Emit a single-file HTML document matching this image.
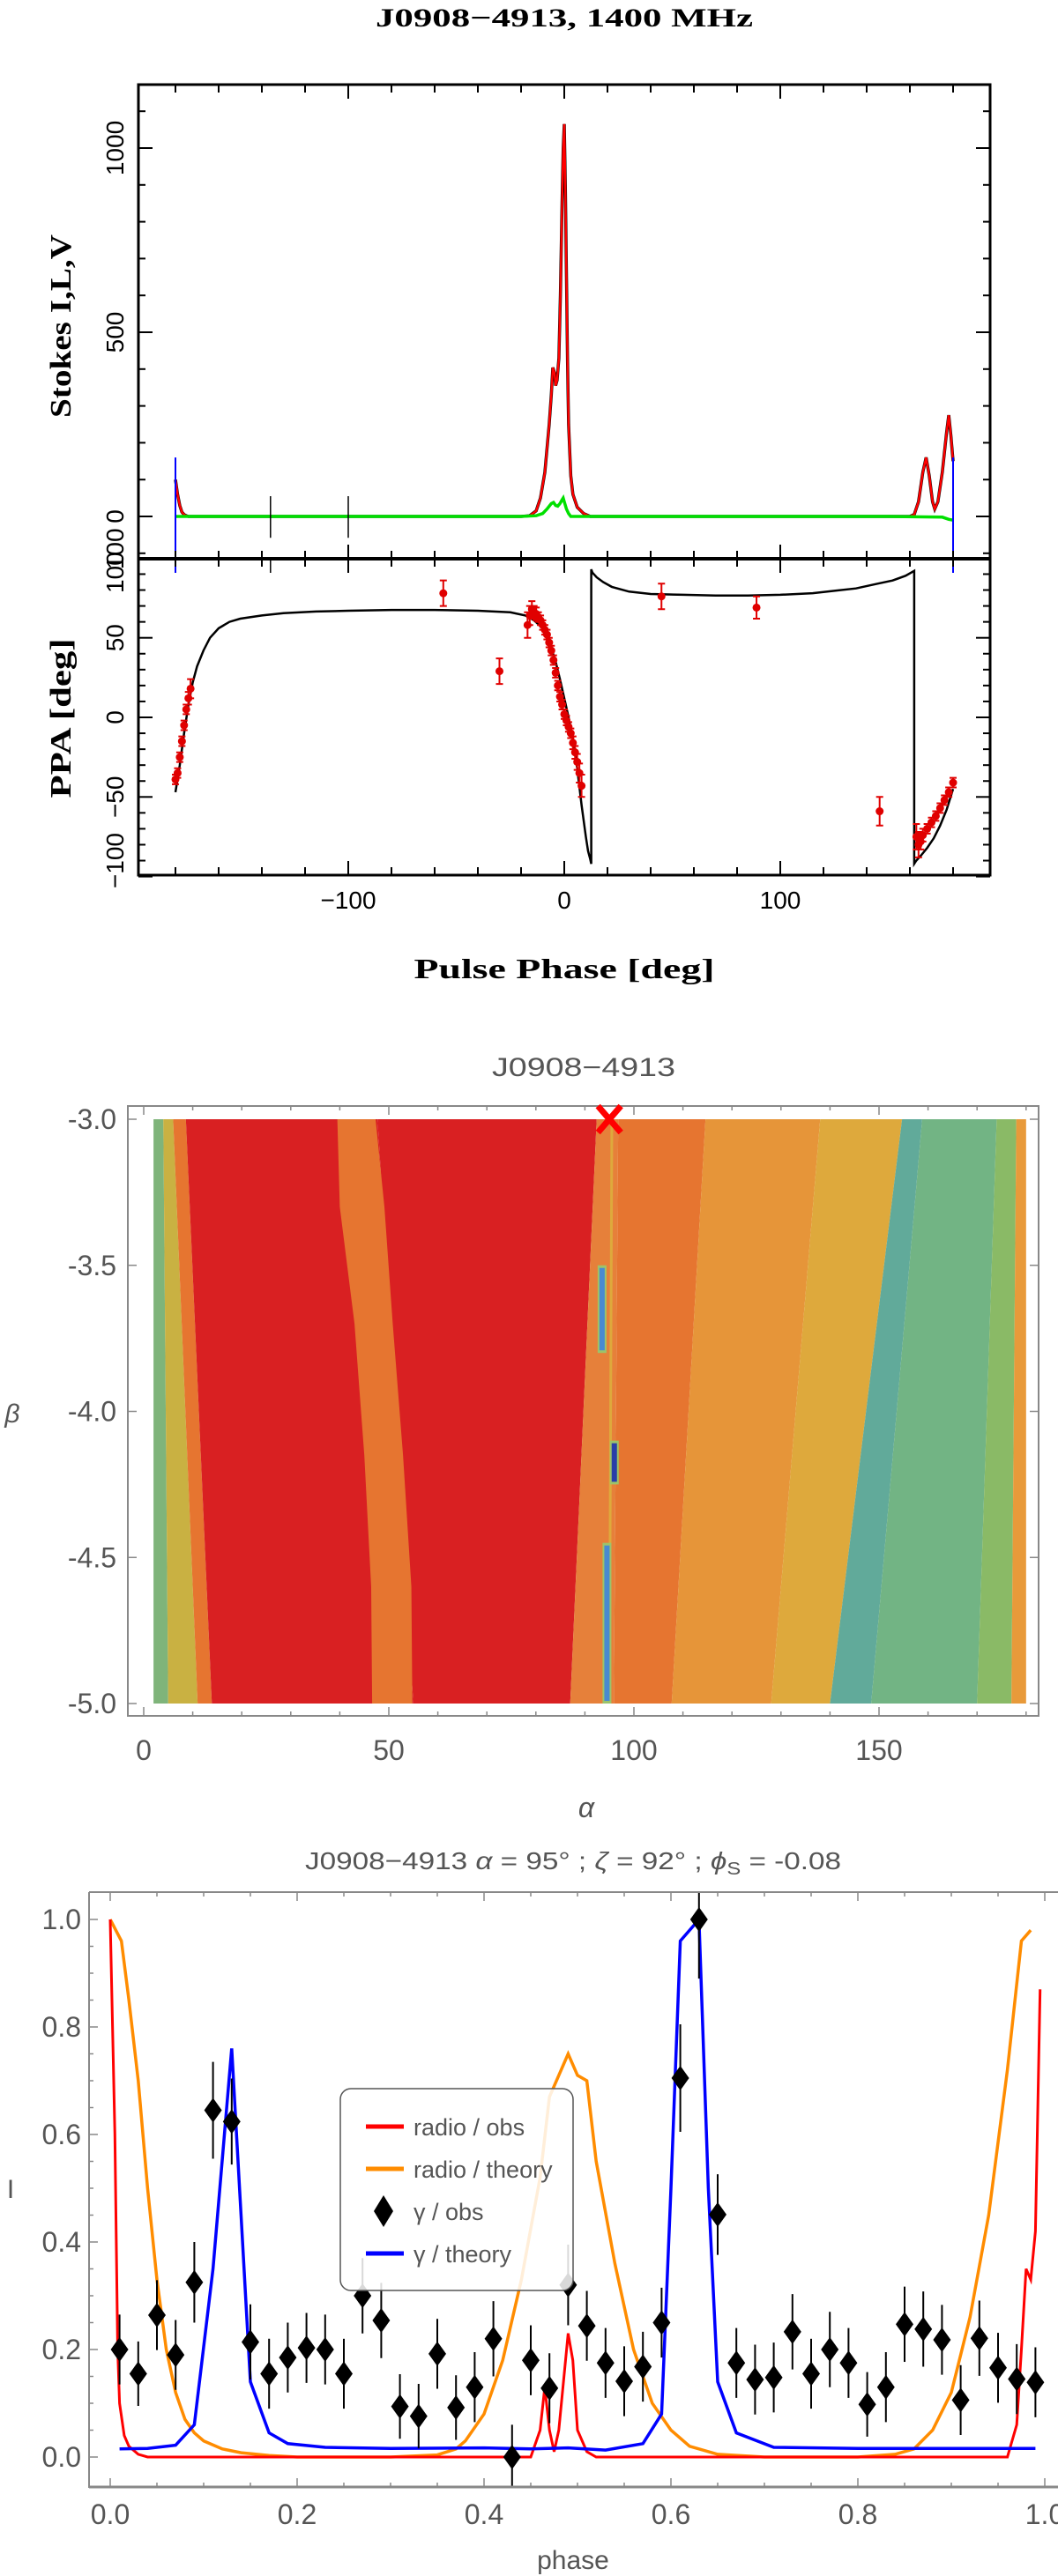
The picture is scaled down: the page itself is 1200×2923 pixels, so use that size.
<!DOCTYPE html>
<html><head><meta charset="utf-8"><style>
html,body{margin:0;padding:0;background:#fff;}
svg{display:block;}
.pg{font-family:"Liberation Serif",serif;font-weight:bold;fill:#000;}
.pgs{font-family:"Liberation Sans",sans-serif;fill:#000;}
.mm{font-family:"Liberation Sans Narrow","Liberation Sans",sans-serif;fill:#555;}
</style></head><body>
<svg id="chart" xmlns="http://www.w3.org/2000/svg" width="1200" height="2923" viewBox="0 0 1200 2923">
<text class="pg" x="640" y="30" font-size="30" text-anchor="middle" textLength="428" lengthAdjust="spacingAndGlyphs">J0908−4913, 1400 MHz</text>
<text class="pg" x="0" y="0" font-size="34" text-anchor="middle" transform="translate(80,370) rotate(-90)" textLength="208" lengthAdjust="spacingAndGlyphs">Stokes I,L,V</text>
<text class="pg" x="0" y="0" font-size="34" text-anchor="middle" transform="translate(80,815) rotate(-90)" textLength="181" lengthAdjust="spacingAndGlyphs">PPA [deg]</text>
<text class="pg" x="640" y="1110" font-size="32" text-anchor="middle" textLength="341" lengthAdjust="spacingAndGlyphs">Pulse Phase [deg]</text>
<text class="mm" x="662" y="1221" font-size="30" text-anchor="middle" textLength="208" lengthAdjust="spacingAndGlyphs">J0908−4913</text>
<text class="mm" x="14" y="1614" font-size="30" font-style="italic" text-anchor="middle">β</text>
<text class="mm" x="665" y="2062" font-size="32" font-style="italic" text-anchor="middle">α</text>
<text class="mm" x="650" y="2121" font-size="28" text-anchor="middle" textLength="608" lengthAdjust="spacingAndGlyphs">J0908−4913 <tspan font-style="italic">α</tspan> = 95° ; <tspan font-style="italic">ζ</tspan> = 92° ; <tspan font-style="italic">ϕ</tspan><tspan font-size="20" dy="6">S</tspan><tspan dy="-6"> = -0.08</tspan></text>
<text class="mm" x="12" y="2494" font-size="30" text-anchor="middle">I</text>
<text class="mm" x="650" y="2915" font-size="30" text-anchor="middle">phase</text>
</svg>
<script>
// ---------- data: top panel ----------
const stokesIPhase=[-180,-179,-178,-177,-176,-175,-174,-160,-100,-20,-16,-13,-11,-9,-7,-6,-5.3,-4.5,-4,-3.3,-2.5,-1.8,-1,-0.5,0,0.5,1,1.5,2,3,4,6,9,12,60,120,160,162,164,166,167.5,169,170.5,171.5,173,175,177,178,179,180];
const stokesIValue=[100,60,30,12,5,2,0,0,0,0,2,15,50,120,250,330,404,390,355,370,430,600,850,1000,1065,900,650,420,250,110,60,25,8,0,0,0,0,5,40,120,160,110,40,20,40,120,230,275,220,150];
const stokesLPhase=[-180,-175,-100,-20,-13,-10,-8,-6,-5,-4,-3,-2,-1,-0.5,0,1,2,3,5,60,150,175,178,180];
const stokesLValue=[0,0,0,0,2,8,20,35,38,30,28,35,45,50,40,20,8,0,0,0,0,-2,-8,-10];
const stokesVPhase=[-180,180];
const stokesVTop=[160,160];
const markerPhase=[-136,-100];
const ppaModelPhase=[-180,-178,-176,-174,-172,-170,-167,-164,-160,-155,-150,-140,-130,-115,-100,-80,-60,-40,-25,-18,-14,-10,-7,-4,-2,0,2,4,6,8,10,11,12,12.5,12.5,13,15,18,22,30,40,55,70,85,100,115,125,135,145,152,158,162,162,163,165,168,171,174,177,180];
const ppaModelValue=[-47,-30,-10,8,22,32,42,50,56,60,62,64,65.5,66.5,67,67.5,67.5,67,66,64,61,56,48,35,24,12,0,-14,-32,-55,-75,-84,-89,-92,93,91,88,85,82,79,77.5,77,76.5,76.5,77,78,79.5,81,84,86,89,92,-92,-90,-87,-82,-76,-68,-58,-45];
const ppaObsPhase=[-180,-179,-178,-177,-176,-175,-174,-173,-56,-30,-17,-16,-15,-14,-13,-12,-11,-10,-9,-8,-7,-6,-5,-4,-3,-2,-1,0,1,2,3,4,5,6,7,8,45,89,146,163,164,165,166,168,170,172,174,176,178,180];
const ppaObsValue=[-39,-35,-25,-15,-5,5,12,18,78,29,58,64,68,66,65,63,61,58,55,52,47,42,36,28,20,13,8,2,-2,-6,-10,-16,-22,-28,-35,-43,76,69,-59,-75,-80,-78,-74,-70,-66,-62,-57,-52,-47,-41];
const ppaObsErr=[3,3,3,3,3,3,4,6,8,8,8,6,5,4,4,3,3,3,3,3,3,3,3,3,3,3,3,3,3,3,3,4,4,5,6,7,8,7,9,8,8,5,4,3,3,3,3,3,3,3];
const topXTicks=[-180,-160,-140,-120,-100,-80,-60,-40,-20,0,20,40,60,80,100,120,140,160,180];
const topXLabels=["−100","0","100"];
const topXLabelVals=[-100,0,100];
const stokesYTicks=[-100,0,100,200,300,400,500,600,700,800,900,1000,1100];
const stokesYLabels=["100","0","500","1000"];
const stokesYLabelVals=[-88,0,500,1000];
const ppaYTicks=[-100,-90,-80,-70,-60,-50,-40,-30,-20,-10,0,10,20,30,40,50,60,70,80,90,100];
const ppaYLabels=["−100","−50","0","50","100"];
const ppaYLabelVals=[-90,-50,0,50,91];
// ---------- data: contour ----------
const bandColors=["#7fb47a","#c9b142","#e67530","#d92022","#d92022","#e6803a","#e67530","#e69539","#dea93c","#61aa9a","#72b484","#8aba66","#e89a3a"];
const bandTopAlpha=[2,4,6,8.6,47.7,92.4,96.8,114.6,138,154.7,158.8,174,178];
const bandBotAlpha=[2,5,11,13.9,55,87,95.9,107.7,128,140,148.4,170,177];
// jagged orange stripe between the two red regions
const stripeBeta=[-3.0,-3.3,-3.7,-4.15,-4.6,-5.0];
const stripeLeftAlpha=[39.5,40,43,45,46.4,46.6];
const stripeRightAlpha=[47.3,49.1,50.8,52.9,54.6,54.8];
const blueSegAlpha=[93.5,96,94.5];
const blueSegTop=[-3.5,-4.1,-4.45];
const blueSegBot=[-3.8,-4.25,-5];
const bestAlpha=95, bestBeta=-3.0;
const alphaTicks=[0,50,100,150];
const alphaLabels=["0","50","100","150"];
const betaTicks=[-3.0,-3.5,-4.0,-4.5,-5.0];
const betaLabels=["-3.0","-3.5","-4.0","-4.5","-5.0"];
// ---------- data: light curve ----------
const radioObsPhase=[0,0.005,0.008,0.01,0.015,0.02,0.03,0.04,0.45,0.46,0.465,0.47,0.475,0.48,0.49,0.495,0.5,0.51,0.52,0.96,0.97,0.975,0.98,0.985,0.99,0.995];
const radioObsValue=[1.0,0.6,0.2,0.1,0.04,0.02,0.005,0,0,0.05,0.13,0.05,0.01,0.05,0.23,0.18,0.05,0.01,0,0,0.06,0.2,0.35,0.33,0.42,0.87];
const radioThPhase=[0,0.012,0.02,0.03,0.04,0.05,0.06,0.07,0.08,0.09,0.1,0.12,0.14,0.17,0.2,0.3,0.35,0.37,0.38,0.4,0.42,0.44,0.46,0.47,0.48,0.49,0.5,0.51,0.52,0.54,0.56,0.58,0.6,0.62,0.65,0.7,0.8,0.84,0.86,0.88,0.9,0.92,0.94,0.96,0.975,0.985];
const radioThValue=[1.0,0.96,0.85,0.7,0.5,0.33,0.2,0.12,0.07,0.045,0.03,0.015,0.008,0.003,0,0,0.004,0.015,0.03,0.08,0.18,0.33,0.52,0.67,0.71,0.75,0.71,0.7,0.55,0.36,0.2,0.1,0.05,0.02,0.005,0,0,0.005,0.015,0.05,0.12,0.26,0.45,0.72,0.96,0.98];
const gammaThPhase=[0.01,0.04,0.07,0.09,0.11,0.13,0.14,0.15,0.17,0.19,0.23,0.3,0.4,0.45,0.49,0.53,0.57,0.59,0.6,0.61,0.63,0.64,0.65,0.67,0.71,0.8,0.99];
const gammaThValue=[0.015,0.016,0.022,0.06,0.35,0.76,0.45,0.14,0.045,0.025,0.018,0.016,0.017,0.015,0.017,0.013,0.025,0.08,0.5,0.96,1.0,0.5,0.14,0.045,0.018,0.016,0.016];
const gammaObsPhase=[0.01,0.03,0.05,0.07,0.09,0.11,0.13,0.15,0.17,0.19,0.21,0.23,0.25,0.27,0.29,0.31,0.33,0.35,0.37,0.39,0.41,0.43,0.45,0.47,0.49,0.51,0.53,0.55,0.57,0.59,0.61,0.63,0.65,0.67,0.69,0.71,0.73,0.75,0.77,0.79,0.81,0.83,0.85,0.87,0.89,0.91,0.93,0.95,0.97,0.99];
const gammaObsValue=[0.2,0.155,0.264,0.19,0.325,0.645,0.624,0.214,0.155,0.185,0.203,0.2,0.155,0.3,0.254,0.094,0.076,0.192,0.092,0.13,0.22,0.0,0.18,0.128,0.32,0.244,0.175,0.141,0.168,0.25,0.705,1.0,0.451,0.175,0.144,0.148,0.233,0.155,0.2,0.175,0.098,0.13,0.247,0.238,0.218,0.106,0.221,0.166,0.145,0.139];
const gammaObsErr=[0.065,0.06,0.065,0.065,0.075,0.09,0.08,0.07,0.065,0.065,0.065,0.065,0.065,0.07,0.07,0.06,0.06,0.065,0.06,0.065,0.07,0.06,0.065,0.065,0.075,0.065,0.065,0.065,0.065,0.065,0.1,0.11,0.075,0.065,0.065,0.065,0.07,0.065,0.07,0.065,0.06,0.065,0.07,0.07,0.065,0.065,0.07,0.065,0.065,0.065];
const lcXTicks=[0,0.2,0.4,0.6,0.8,1.0];
const lcXLabels=["0.0","0.2","0.4","0.6","0.8","1.0"];
const lcYTicks=[0,0.2,0.4,0.6,0.8,1.0];
const lcYLabels=["0.0","0.2","0.4","0.6","0.8","1.0"];
const legendLabels=["radio / obs","radio / theory","γ / obs","γ / theory"];
const legendColors=["#ff0000","#ff8c00","#000","#0000ff"];

// ---------- axis functions ----------
const xS=d=>640+d*2.45, yI=v=>586-v*0.418, yP=v=>814-v*1.806;
const xA=a=>163+a*5.56, yB=b=>1270+(-3-b)*331.5;
const xF=p=>125+p*1060, yF=v=>2788-v*610;
const NS="http://www.w3.org/2000/svg";
const svg=document.getElementById('chart');
function mk(tag,attrs,parent){const e=document.createElementNS(NS,tag);for(const k in attrs)e.setAttribute(k,attrs[k]);(parent||svg).appendChild(e);return e;}
function pathD(xs,ys,fx,fy){return xs.map((x,i)=>(i?'L':'M')+fx(x).toFixed(1)+','+fy(ys[i]).toFixed(1)).join('');}

// ===== TOP PANEL =====
let g=mk('g',{});


let cp=mk('clipPath',{id:'c1'});mk('rect',{x:157,y:96,width:966,height:538},cp);
let cp2=mk('clipPath',{id:'c2'});mk('rect',{x:157,y:634,width:966,height:359},cp2);
let e;
e=mk('path',{d:pathD(stokesIPhase,stokesIValue,xS,yI),fill:'none',stroke:'#000','stroke-width':3.5,'clip-path':'url(#c1)'},g);


e=mk('path',{d:pathD(stokesIPhase,stokesIValue,xS,yI),fill:'none',stroke:'#ff0000','stroke-width':2.5,'clip-path':'url(#c1)'},g);


e=mk('path',{d:pathD(stokesLPhase,stokesLValue,xS,yI),fill:'none',stroke:'#00e000','stroke-width':3.5,'clip-path':'url(#c1)'},g);


for(let i=0;i<stokesVPhase.length;i++){
 e=mk('line',{x1:xS(stokesVPhase[i]),x2:xS(stokesVPhase[i]),y1:yI(stokesVTop[i]),y2:634,stroke:'#0000ff','stroke-width':2},g);
 
 
 e=mk('line',{x1:xS(stokesVPhase[i]),x2:xS(stokesVPhase[i]),y1:634,y2:650,stroke:'#0000ff','stroke-width':2},g);
 
 
}
for(const m of markerPhase){
 e=mk('line',{x1:xS(m),x2:xS(m),y1:yI(55),y2:yI(-58),stroke:'#000','stroke-width':1.5},g);
 
 
 e=mk('line',{x1:xS(m),x2:xS(m),y1:634,y2:650,stroke:'#000','stroke-width':1.5},g);
 
 
}
// PPA
e=mk('path',{d:pathD(ppaModelPhase,ppaModelValue,xS,yP),fill:'none',stroke:'#000','stroke-width':2.5,'clip-path':'url(#c2)'},g);


for(let i=0;i<ppaObsPhase.length;i++){
 const x=xS(ppaObsPhase[i]),y=yP(ppaObsValue[i]),h=ppaObsErr[i]*1.806;
 e=mk('path',{d:`M${x},${y-h}V${y+h}M${x-4},${y-h}h8M${x-4},${y+h}h8`,stroke:'#e00000','stroke-width':2,fill:'none'},g);
 
 
 e=mk('circle',{cx:x,cy:y,r:4.5,fill:'#e00000'},g);
 
 
}
// frames and ticks
e=mk('rect',{x:157,y:96,width:966,height:897,fill:'none',stroke:'#000','stroke-width':3},g);


e=mk('line',{x1:157,x2:1123,y1:634,y2:634,stroke:'#000','stroke-width':4},g);


for(const t of topXTicks){
 const x=xS(t),L=(t%100===0)?16:9;
 for(const [y0,dir] of [[96,1],[634,-1],[634,1],[993,-1]]){
  e=mk('line',{x1:x,x2:x,y1:y0,y2:y0+dir*L,stroke:'#000','stroke-width':2},g);
  
  
 }
}
topXLabelVals.forEach((v,i)=>{
 e=mk('text',{x:xS(v),y:1031,'font-size':28,'text-anchor':'middle',class:'pgs'},g);e.textContent=topXLabels[i];
 
 
});
for(const t of stokesYTicks){
 const y=yI(t),L=(t%500===0)?16:8;
 for(const [x0,dir] of [[157,1],[1123,-1]]){
  e=mk('line',{x1:x0,x2:x0+dir*L,y1:y,y2:y,stroke:'#000','stroke-width':2},g);
  
  
 }
}
stokesYLabelVals.forEach((v,i)=>{
 e=mk('text',{x:0,y:0,'font-size':28,'text-anchor':'middle',class:'pgs',transform:`translate(140,${yI(v)}) rotate(-90)`},g);e.textContent=stokesYLabels[i];
 
 
});
for(const t of ppaYTicks){
 const y=yP(t),L=(t%50===0)?16:8;
 for(const [x0,dir] of [[157,1],[1123,-1]]){
  e=mk('line',{x1:x0,x2:x0+dir*L,y1:y,y2:y,stroke:'#000','stroke-width':2},g);
  
  
 }
}
ppaYLabelVals.forEach((v,i)=>{
 e=mk('text',{x:0,y:0,'font-size':28,'text-anchor':'middle',class:'pgs',transform:`translate(140,${yP(v)}) rotate(-90)`},g);e.textContent=ppaYLabels[i];
 
 
});

// ===== CONTOUR =====
g=mk('g',{});


const yT=yB(-3.0), yBt=yB(-5.0);
for(let i=0;i<bandColors.length;i++){
 const t0=bandTopAlpha[i],b0=bandBotAlpha[i];
 const t1=i+1<bandColors.length?bandTopAlpha[i+1]:180, b1=i+1<bandColors.length?bandBotAlpha[i+1]:180;
 e=mk('polygon',{points:`${xA(t0)},${yT} ${xA(t1)},${yT} ${xA(b1)},${yBt} ${xA(b0)},${yBt}`,fill:bandColors[i]},g);
 
 
}
{
 const pts=[];
 stripeBeta.forEach((b,i)=>pts.push(xA(stripeLeftAlpha[i])+','+yB(b)));
 for(let i=stripeBeta.length-1;i>=0;i--)pts.push(xA(stripeRightAlpha[i])+','+yB(stripeBeta[i]));
 e=mk('polygon',{points:pts.join(' '),fill:'#e67530'},g);
 
 
}
e=mk('line',{x1:xA(95.5),x2:xA(95),y1:yT,y2:yBt,stroke:'#dea93c','stroke-width':3},g);


for(let i=0;i<blueSegAlpha.length;i++){
 e=mk('rect',{x:xA(blueSegAlpha[i])-5,y:yB(blueSegTop[i]),width:10,height:yB(blueSegBot[i])-yB(blueSegTop[i]),fill:'#9cc36a'},g);
 
 
 e=mk('rect',{x:xA(blueSegAlpha[i])-3,y:yB(blueSegTop[i])+3,width:6,height:yB(blueSegBot[i])-yB(blueSegTop[i])-6,fill:i===1?'#2a3ea8':'#4a8ad0'},g);
 
 
}
e=mk('rect',{x:145,y:1255,width:1033,height:692,fill:'none',stroke:'#888','stroke-width':2},g);


for(let a=0;a<=180;a+=10){
 const L=(a%50===0)?10:5;
 e=mk('line',{x1:xA(a),x2:xA(a),y1:1947,y2:1947-L,stroke:'#888','stroke-width':1.5},g);
 
 
 e=mk('line',{x1:xA(a),x2:xA(a),y1:1255,y2:1255+L,stroke:'#888','stroke-width':1.5},g);
 
 
}
alphaTicks.forEach((a,i)=>{
 e=mk('text',{x:xA(a),y:1997,'font-size':32,'text-anchor':'middle',class:'mm'},g);e.textContent=alphaLabels[i];
 
 
});
betaTicks.forEach((b,i)=>{
 for(const [x0,dir] of [[145,1],[1178,-1]]){
  e=mk('line',{x1:x0,x2:x0+dir*10,y1:yB(b),y2:yB(b),stroke:'#888','stroke-width':1.5},g);
  
  
 }
 e=mk('text',{x:132,y:yB(b)+11,'font-size':32,'text-anchor':'end',class:'mm'},g);e.textContent=betaLabels[i];
 
 
});
const bx=xA(bestAlpha), by=yB(bestBeta);
e=mk('path',{d:`M${bx-13},${by-15}L${bx+13},${by+15}M${bx+13},${by-15}L${bx-13},${by+15}`,stroke:'#ff0000','stroke-width':7},g);



// ===== LIGHT CURVE =====
g=mk('g',{});


let cp3=mk('clipPath',{id:'c3'});mk('rect',{x:101,y:2147,width:1099,height:675},cp3);
e=mk('path',{d:pathD(radioThPhase,radioThValue,xF,yF),fill:'none',stroke:'#ff8c00','stroke-width':3.5,'clip-path':'url(#c3)'},g);


e=mk('path',{d:pathD(radioObsPhase,radioObsValue,xF,yF),fill:'none',stroke:'#ff0000','stroke-width':3,'clip-path':'url(#c3)'},g);


e=mk('path',{d:pathD(gammaThPhase,gammaThValue,xF,yF),fill:'none',stroke:'#0000ff','stroke-width':3.5,'clip-path':'url(#c3)'},g);


for(let i=0;i<gammaObsPhase.length;i++){
 const x=xF(gammaObsPhase[i]),y=yF(gammaObsValue[i]),h=gammaObsErr[i]*610;
 e=mk('line',{x1:x,x2:x,y1:y-h,y2:y+h,stroke:'#000','stroke-width':2,'clip-path':'url(#c3)'},g);
 
 
 e=mk('polygon',{points:`${x},${y-14} ${x+10},${y} ${x},${y+14} ${x-10},${y}`,fill:'#000'},g);
 
 
}
e=mk('path',{d:'M101,2147H1200M101,2147V2822H1200',fill:'none',stroke:'#888','stroke-width':2},g);


e=mk('line',{x1:101,x2:1200,y1:2822,y2:2822,stroke:'#888','stroke-width':3},g);


for(let k=0;k<=20;k++){
 const p=k*0.05,x=xF(p),L=(k%4===0)?10:5;
 e=mk('line',{x1:x,x2:x,y1:2822,y2:2822-L,stroke:'#888','stroke-width':1.5},g);
 
 
 e=mk('line',{x1:x,x2:x,y1:2147,y2:2147+L,stroke:'#888','stroke-width':1.5},g);
 
 
 const v=k*0.05,yv=yF(v),L2=(k%4===0)?10:5;
 e=mk('line',{x1:101,x2:101+L2,y1:yv,y2:yv,stroke:'#888','stroke-width':1.5},g);
 
 
}
lcXTicks.forEach((p,i)=>{
 e=mk('text',{x:xF(p),y:2864,'font-size':32,'text-anchor':'middle',class:'mm'},g);e.textContent=lcXLabels[i];
 
 
});
lcYTicks.forEach((v,i)=>{
 e=mk('text',{x:92,y:yF(v)+11,'font-size':32,'text-anchor':'end',class:'mm'},g);e.textContent=lcYLabels[i];
 
 
});
// legend
const lg=mk('g',{},g);


e=mk('rect',{x:386,y:2370,width:264,height:229,rx:12,fill:'#fff','fill-opacity':0.85,stroke:'#555','stroke-width':1.5},lg);


legendLabels.forEach((lab,i)=>{
 const y=2413+i*48;
 if(i===2){
  e=mk('polygon',{points:`435,${y-18} 446,${y} 435,${y+18} 424,${y}`,fill:'#000'},lg);
 } else {
  e=mk('line',{x1:415,x2:458,y1:y,y2:y,stroke:legendColors[i],'stroke-width':5},lg);
 }
 
 
 e=mk('text',{x:469,y:y+10,'font-size':27,class:'mm',fill:'#000'},lg);e.textContent=lab;
 
 
});
</script>
</body></html>
